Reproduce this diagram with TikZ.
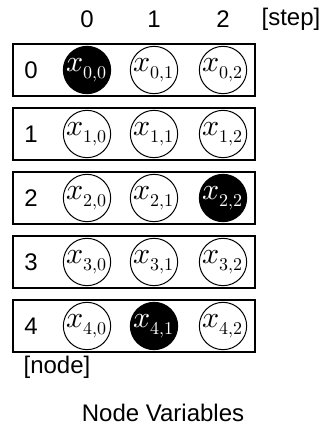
\documentclass[tikz,border=0pt]{standalone}
\usepackage{fontspec}
\usepackage{unicode-math}
\setmainfont{Liberation Sans}
\setmathfont{Latin Modern Math}
\DeclareMathSizes{30}{30}{18}{14}

\begin{document}
\begin{tikzpicture}[x=1pt,y=-1pt,
  lbl/.style={font=\fontsize{24}{26}\selectfont},
  row/.style={draw,line width=1.6pt,minimum width=242pt,minimum height=52pt,inner sep=0pt},
  var/.style={draw,circle,line width=1pt,minimum size=46pt,inner sep=0pt,font=\fontsize{30}{30}\selectfont},
  fixed/.style={var,fill=black,text=white}]
\useasboundingbox (0,0) rectangle (321,428);

% step header
\node[lbl] (s0) at (87,19){0};
\node[lbl] (s1) at (154,19){1};
\node[lbl] (s2) at (223,19){2};
\node[lbl] (step) at (291,19){[step]};

% one box per node
\node[row] (r0) at (134,70){};
\node[row] (r1) at (134,134){};
\node[row] (r2) at (134,198){};
\node[row] (r3) at (134,262){};
\node[row] (r4) at (134,326){};

\node[lbl] (n0) at (31,70){0};
\node[lbl] (n1) at (31,134){1};
\node[lbl] (n2) at (31,198){2};
\node[lbl] (n3) at (31,262){3};
\node[lbl] (n4) at (31,326){4};

\node[fixed] (x00) at (87,70){$x_{0,0}$};
\node[var] (x01) at (154,70){$x_{0,1}$};
\node[var] (x02) at (223,70){$x_{0,2}$};
\node[var] (x10) at (87,134){$x_{1,0}$};
\node[var] (x11) at (154,134){$x_{1,1}$};
\node[var] (x12) at (223,134){$x_{1,2}$};
\node[var] (x20) at (87,198){$x_{2,0}$};
\node[var] (x21) at (154,198){$x_{2,1}$};
\node[fixed] (x22) at (223,198){$x_{2,2}$};
\node[var] (x30) at (87,262){$x_{3,0}$};
\node[var] (x31) at (154,262){$x_{3,1}$};
\node[var] (x32) at (223,262){$x_{3,2}$};
\node[var] (x40) at (87,326){$x_{4,0}$};
\node[fixed] (x41) at (154,326){$x_{4,1}$};
\node[var] (x42) at (223,326){$x_{4,2}$};

\node[lbl] (node) at (57,367){[node]};
\node[lbl] (title) at (163,413){Node Variables};
\end{tikzpicture}
\end{document}
